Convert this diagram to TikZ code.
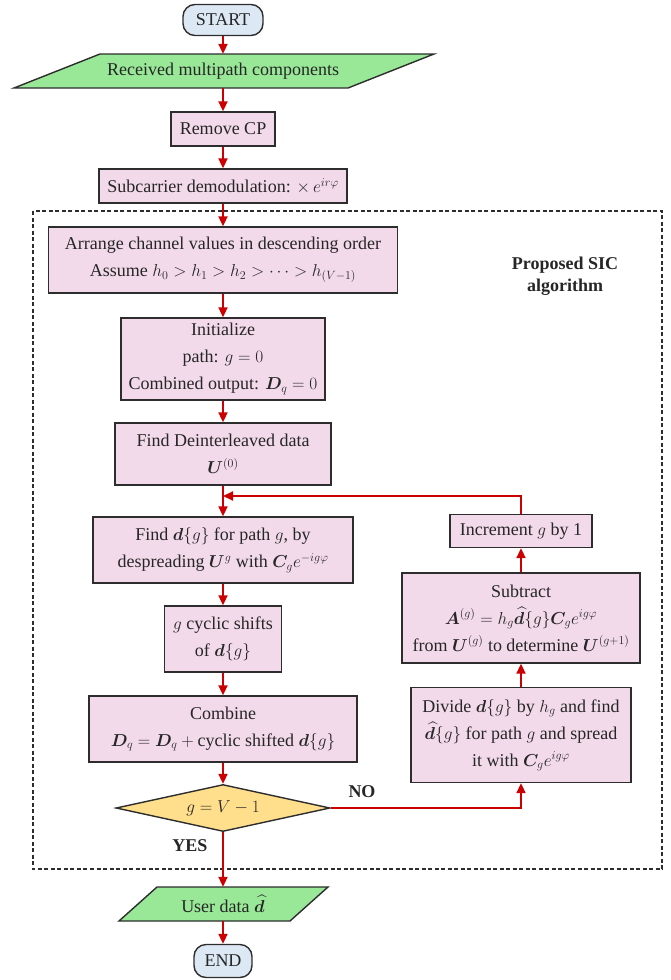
\documentclass[tikz,border=0pt]{standalone}
\usepackage{amsmath,bm}
\usepackage{fontspec}
\setmainfont{Liberation Serif}
\usetikzlibrary{arrows.meta,shapes.geometric}
\definecolor{pinkf}{RGB}{242,218,234}
\definecolor{greenf}{RGB}{152,232,152}
\definecolor{bluef}{RGB}{220,233,245}
\definecolor{yellowf}{RGB}{255,222,140}
\definecolor{arrred}{RGB}{204,0,0}
\definecolor{edgec}{RGB}{45,45,45}
\begin{document}
\begin{tikzpicture}[x=1pt,y=-1pt,
  every node/.style={font=\fontsize{18}{27}\selectfont, text=black!85},
  procbox/.style={draw=edgec,line width=1.4pt,fill=pinkf,align=center,inner sep=2pt},
  termbox/.style={draw=edgec,line width=1.4pt,fill=bluef,rounded corners=12pt,inner sep=2pt},
  iobox/.style={draw=edgec,line width=1.4pt,fill=greenf},
  decbox/.style={draw=edgec,line width=1.4pt,fill=yellowf,diamond,aspect=4.55,inner sep=0pt},
  arr/.style={draw=arrred,line width=2pt,-{Triangle[length=10pt,width=9pt]}},
  lbl/.style={font=\fontsize{18}{22}\selectfont\bfseries}]
\useasboundingbox (0,0) rectangle (670,980);

% dashed region
\draw[edgec,line width=1.3pt,dash pattern=on 4pt off 2.5pt] (33,211) rectangle (662,869);
\node[lbl,align=center] (sic) at (565,276) {Proposed SIC\\algorithm};

% parallelogram backgrounds
\draw[iobox] (14,88) -- (100,54) -- (434,54) -- (348,88) -- cycle;
\draw[iobox] (119,921) -- (157,887) -- (328,887) -- (290,921) -- cycle;

\node[termbox,minimum width=80pt,minimum height=31pt] (start) at (223,20) {START};
\node[minimum height=34pt,inner sep=0pt] (recv) at (223,71) {Received multipath components};
\node[procbox,minimum width=104pt,minimum height=34pt] (rcp) at (223,129) {Remove CP};
\node[procbox,minimum width=248pt,minimum height=34pt] (sub) at (223,186) {Subcarrier demodulation: $\times\, e^{ir\varphi}$};
\node[procbox,minimum width=349pt,minimum height=66pt] (arrange) at (223,260) {Arrange channel values in descending order\\Assume $h_0 > h_1 > h_2 > \cdots > h_{(V-1)}$};
\node[procbox,minimum width=204pt,minimum height=82pt] (init) at (223,359) {Initialize\\path: $g=0$\\Combined output: $\bm{D}_q = 0$};
\node[procbox,minimum width=216pt,minimum height=62pt] (deint) at (223,454) {Find Deinterleaved data\\$\bm{U}^{(0)}$};
\node[procbox,minimum width=260pt,minimum height=66pt] (findd) at (223,550) {Find $\bm{d}\{g\}$ for path $g$, by\\despreading $\bm{U}^{g}$ with $\bm{C}_g e^{-ig\varphi}$};
\node[procbox,minimum width=117pt,minimum height=66pt] (cyc) at (223,639) {$g$ cyclic shifts\\of $\bm{d}\{g\}$};
\node[procbox,minimum width=268pt,minimum height=66pt] (comb) at (223,729) {Combine\\$\bm{D}_q = \bm{D}_q + \text{cyclic shifted } \bm{d}\{g\}$};
\node[decbox,minimum width=214pt,minimum height=47pt] (dec) at (223,808) {$g = V - 1$};
\node[minimum height=34pt,inner sep=0pt] (user) at (223,904) {User data $\widehat{\bm{d}}$};
\node[termbox,minimum width=58pt,minimum height=33pt] (end) at (223,961) {END};

\node[procbox,minimum width=142pt,minimum height=33pt] (inc) at (521,531) {Increment $g$ by 1};
\node[procbox,minimum width=238pt,minimum height=90pt] (subt) at (521,618) {Subtract\\$\bm{A}^{(g)} = h_g \widehat{\bm{d}}\{g\}\bm{C}_g e^{ig\varphi}$\\from $\bm{U}^{(g)}$ to determine $\bm{U}^{(g+1)}$};
\node[procbox,minimum width=220pt,minimum height=95pt] (div) at (521,735) {Divide $\bm{d}\{g\}$ by $h_g$ and find\\$\widehat{\bm{d}}\{g\}$ for path $g$ and spread\\it with $\bm{C}_g e^{ig\varphi}$};

\coordinate (loop) at (223,496);

\draw[arr] (start) -- (recv);
\draw[arr] (recv) -- (rcp);
\draw[arr] (rcp) -- (sub);
\draw[arr] (sub) -- (arrange);
\draw[arr] (arrange) -- (init);
\draw[arr] (init) -- (deint);
\draw[arr] (deint) -- (findd);
\draw[arr] (findd) -- (cyc);
\draw[arr] (cyc) -- (comb);
\draw[arr] (comb) -- (dec);
\draw[arr] (dec) -- (user);
\draw[arr] (user) -- (end);
\draw[arr] (dec.east) -| (div.south);
\draw[arr] (div) -- (subt);
\draw[arr] (subt) -- (inc);
\draw[arr] (inc.north) |- (loop);

\node[lbl] (no) at (362,792) {NO};
\node[lbl] (yes) at (190,846) {YES};
\end{tikzpicture}
\end{document}
